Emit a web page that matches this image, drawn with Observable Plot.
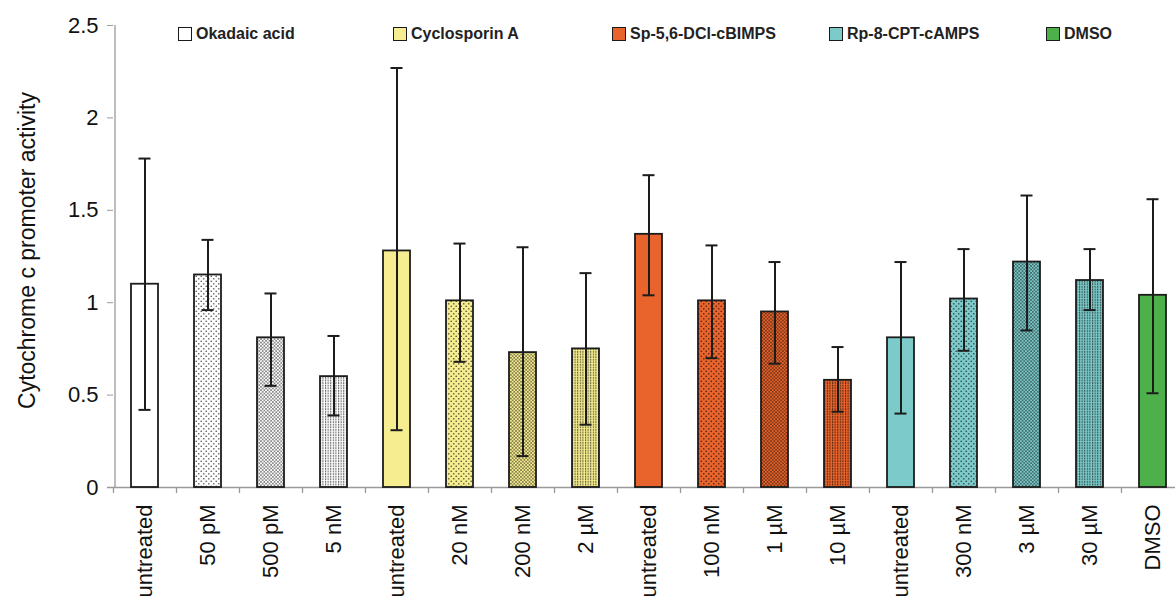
<!DOCTYPE html>
<html>
<head>
<meta charset="utf-8">
<script src="https://cdn.jsdelivr.net/npm/d3@7"></script>
<script src="https://cdn.jsdelivr.net/npm/@observablehq/plot@0.6"></script>
<style>
  html, body { margin: 0; padding: 0; background: #fff; overflow: hidden; }
  #wrap { position: relative; width: 1175px; height: 596px; }
  #legend { position: absolute; left: 0; top: 0; width: 1175px; height: 60px; font-family: "Liberation Sans", Arial, sans-serif; font-weight: bold; font-size: 16px; color: #222; }
  .item { position: absolute; top: 25px; display: flex; align-items: center; white-space: nowrap; }
  .sw { width: 12px; height: 12px; border: 1.8px solid #1a1a1a; margin-right: 4px; }
</style>
</head>
<body>
<div id="wrap"><div id="legend"></div></div>
<script>
// ---- data ----
const categories = ["untreated","50 pM","500 pM","5 nM","untreated","20 nM","200 nM","2 µM","untreated","100 nM","1 µM","10 µM","untreated","300 nM","3 µM","30 µM","DMSO"];
const groupNames = ["Okadaic acid","Cyclosporin A","Sp-5,6-DCl-cBIMPS","Rp-8-CPT-cAMPS","DMSO"];
const groupOf   = [0,0,0,0, 1,1,1,1, 2,2,2,2, 3,3,3,3, 4];
const patternOf = [0,1,2,3, 0,1,2,3, 0,1,2,3, 0,1,2,3, 0];
const values    = [1.10,1.15,0.81,0.60, 1.28,1.01,0.73,0.75, 1.37,1.01,0.95,0.58, 0.81,1.02,1.22,1.12, 1.04];
const errLow    = [0.42,0.96,0.55,0.39, 0.31,0.68,0.17,0.34, 1.04,0.70,0.67,0.41, 0.40,0.74,0.85,0.96, 0.51];
const errHigh   = [1.78,1.34,1.05,0.82, 2.27,1.32,1.30,1.16, 1.69,1.31,1.22,0.76, 1.22,1.29,1.58,1.29, 1.56];
const yTicks    = [0,0.5,1,1.5,2,2.5];
const yLabel    = "Cytochrome c promoter activity";

// ---- styles ----
const groupColors = ["#ffffff","#f6ed90","#e8642c","#7dcaca","#4eb04b"];

const data = categories.map((c, i) => ({
  i, label: c, v: values[i], lo: errLow[i], hi: errHigh[i],
  color: groupColors[groupOf[i]], pat: patternOf[i]
}));

const idx = d3.range(categories.length);
const FONT = "'Liberation Sans', Arial, sans-serif";

const chart = Plot.plot({
  width: 1175,
  height: 596,
  marginLeft: 113,
  marginRight: 0,
  marginTop: 25,
  marginBottom: 109,
  style: { fontFamily: FONT, background: "#fff", color: "#000" },
  x: { domain: idx, range: [113, 1184], paddingInner: 0.57, paddingOuter: 0.285, align: 0.5, axis: null },
  y: { domain: [0, 2.5], axis: null },
  color: { type: "identity" },
  marks: [
    Plot.ruleY([0], { stroke: "#9a9a9a", strokeWidth: 1.3, insetLeft: -6 }),
    Plot.ruleX([0], { x: d => d, dx: -30, y1: 0, y2: 2.5, stroke: "#9a9a9a", strokeWidth: 1.3 }),
    Plot.ruleX(idx, { x: d => d, dx: -31.5, y1: 0, y2: 0, insetBottom: -6, stroke: "#9a9a9a", strokeWidth: 1.3 }),
    Plot.axisY({ ticks: yTicks, tickFormat: d => String(d), tickSize: 6, tickPadding: 9, fontSize: 22, stroke: "#9a9a9a", fill: "#111" }),
    Plot.axisX({ ticks: idx, tickFormat: i => categories[i], tickSize: 0, tickPadding: 17, tickRotate: -90, fontSize: 22, fill: "#111", label: null }),
    Plot.text([yLabel], { frameAnchor: "left", textAnchor: "middle", dx: -86, dy: -6, rotate: -90, fontSize: 23, fill: "#111", text: d => d }),
    Plot.barY(data, { x: "i", y: "v", fill: "color" }),
    Plot.barY(data.filter(d => d.pat === 1), { x: "i", y: "v", fill: "url(#pat1)" }),
    Plot.barY(data.filter(d => d.pat === 2), { x: "i", y: "v", fill: "url(#pat2)" }),
    Plot.barY(data.filter(d => d.pat === 3), { x: "i", y: "v", fill: "url(#pat3)" }),
    Plot.barY(data, { x: "i", y: "v", fill: "none", stroke: "#1c1c1c", strokeWidth: 1.8 }),
    Plot.ruleX(data, { x: "i", y1: "lo", y2: "hi", stroke: "#1c1c1c", strokeWidth: 2 }),
    Plot.tickY(data, { x: "i", y: "lo", stroke: "#1c1c1c", strokeWidth: 2, insetLeft: 7.5, insetRight: 7.5 }),
    Plot.tickY(data, { x: "i", y: "hi", stroke: "#1c1c1c", strokeWidth: 2, insetLeft: 7.5, insetRight: 7.5 })
  ]
});

// patterns
const defs = d3.select(chart).insert("defs", ":first-child");
const p1 = defs.append("pattern").attr("id", "pat1").attr("patternUnits", "userSpaceOnUse").attr("width", 5).attr("height", 5);
p1.append("circle").attr("cx", 1.25).attr("cy", 1.25).attr("r", 0.85).attr("fill", "rgba(0,0,0,0.6)");
p1.append("circle").attr("cx", 3.75).attr("cy", 3.75).attr("r", 0.85).attr("fill", "rgba(0,0,0,0.6)");
const p2 = defs.append("pattern").attr("id", "pat2").attr("patternUnits", "userSpaceOnUse").attr("width", 3.4).attr("height", 3.4);
p2.append("circle").attr("cx", 0.85).attr("cy", 0.85).attr("r", 0.85).attr("fill", "rgba(0,0,0,0.62)");
p2.append("circle").attr("cx", 2.55).attr("cy", 2.55).attr("r", 0.85).attr("fill", "rgba(0,0,0,0.62)");
const p3 = defs.append("pattern").attr("id", "pat3").attr("patternUnits", "userSpaceOnUse").attr("width", 2.6).attr("height", 2.6);
p3.append("rect").attr("x", 0).attr("y", 0).attr("width", 1.1).attr("height", 1.9).attr("fill", "rgba(0,0,0,0.58)");

document.getElementById("wrap").prepend(chart);

// legend
const legendLeft = [178, 393, 612, 829, 1046];
const legend = d3.select("#legend");
groupNames.forEach((name, g) => {
  const it = legend.append("div").attr("class", "item").style("left", legendLeft[g] + "px");
  it.append("div").attr("class", "sw").style("background", groupColors[g]);
  it.append("span").text(name);
});
</script>
</body>
</html>
